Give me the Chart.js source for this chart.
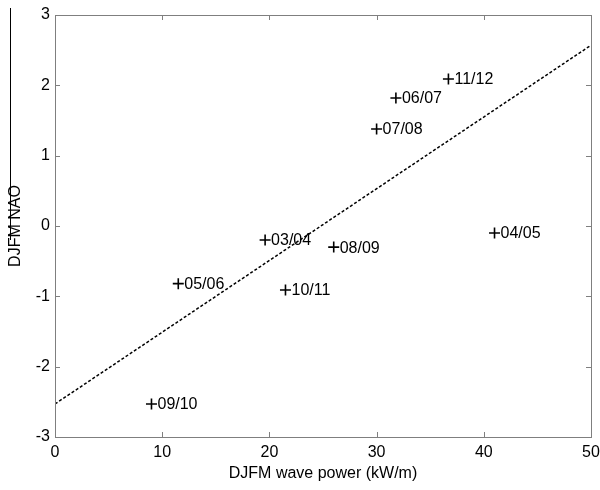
<!DOCTYPE html>
<html>
<head>
<meta charset="utf-8">
<script src="https://cdn.jsdelivr.net/npm/chart.js@4"></script>
<style>
  html, body { margin: 0; padding: 0; background: #fff; }
  #wrap { width: 600px; height: 490px; }
</style>
</head>
<body>
<div id="wrap"><canvas id="c" width="600" height="490"></canvas></div>
<script>
// winter (DJFM) seasons: wave power vs NAO index
const seasons = ['09/10', '05/06', '03/04', '10/11', '08/09', '07/08', '06/07', '11/12', '04/05'];
const wavePower = [9.0, 11.5, 19.6, 21.5, 26.0, 30.0, 31.8, 36.7, 41.0];
const naoIndex = [-2.53, -0.82, -0.20, -0.91, -0.30, 1.38, 1.82, 2.09, -0.10];

// least squares fit line at both ends
const fitX = [0, 50];
const fitY = [-2.53, 2.57];

const xTicks = [0, 10, 20, 30, 40, 50];
const yTicks = [-3, -2, -1, 0, 1, 2, 3];

const FONT = 'Liberation Sans, Arial, sans-serif';
const AXIS_GREY = '#7f7f7f';

// point labels next to each + marker
const seasonLabels = {
  id: 'seasonLabels',
  afterDatasetsDraw(chart) {
    const ctx = chart.ctx;
    const meta = chart.getDatasetMeta(0);
    ctx.save();
    ctx.font = '16px ' + FONT;
    ctx.fillStyle = '#000';
    ctx.textBaseline = 'middle';
    ctx.textAlign = 'left';
    meta.data.forEach((pt, i) => {
      ctx.fillText(seasons[i], pt.x + 6, pt.y + 1);
    });
    ctx.restore();
  }
};

// matlab style box: inward ticks on all four sides + stray line at far left
const boxTicks = {
  id: 'boxTicks',
  afterDraw(chart) {
    const ctx = chart.ctx;
    const a = chart.chartArea;
    const xs = chart.scales.x, ys = chart.scales.y;
    const len = 5;
    ctx.save();
    ctx.strokeStyle = AXIS_GREY;
    ctx.lineWidth = 1;
    ctx.strokeRect(Math.round(a.left) + 0.5, Math.round(a.top) + 0.5,
      Math.round(a.right - a.left), Math.round(a.bottom - a.top));
    ctx.beginPath();
    xTicks.forEach(v => {
      const px = Math.round(xs.getPixelForValue(v)) + 0.5;
      ctx.moveTo(px, a.bottom); ctx.lineTo(px, a.bottom - len);
      ctx.moveTo(px, a.top); ctx.lineTo(px, a.top + len);
    });
    yTicks.forEach(v => {
      const py = Math.round(ys.getPixelForValue(v)) + 0.5;
      ctx.moveTo(a.left, py); ctx.lineTo(a.left + len, py);
      ctx.moveTo(a.right, py); ctx.lineTo(a.right - len, py);
    });
    ctx.stroke();
    ctx.strokeStyle = '#000';
    ctx.beginPath();
    ctx.moveTo(10.5, 8); ctx.lineTo(10.5, 240);
    ctx.stroke();
    ctx.restore();
  }
};

new Chart(document.getElementById('c'), {
  type: 'scatter',
  data: {
    datasets: [
      {
        label: 'seasons',
        data: wavePower.map((x, i) => ({ x, y: naoIndex[i] })),
        pointStyle: 'cross',
        pointRadius: 5.5,
        pointHoverRadius: 5.5,
        borderColor: '#000',
        backgroundColor: '#000',
        pointBorderWidth: 1.6,
        showLine: false
      },
      {
        label: 'fit',
        data: fitX.map((x, i) => ({ x, y: fitY[i] })),
        showLine: true,
        borderColor: '#000',
        borderWidth: 1.5,
        borderDash: [3, 2],
        pointRadius: 0,
        fill: false
      }
    ]
  },
  options: {
    responsive: false,
    animation: false,
    layout: { padding: { top: 15, right: 0, left: 0, bottom: 0 } },
    plugins: {
      legend: { display: false },
      tooltip: { enabled: false }
    },
    scales: {
      x: {
        type: 'linear',
        min: 0, max: 50,
        afterBuildTicks: s => { s.ticks = xTicks.map(v => ({ value: v })); },
        afterFit: s => { s.height = 53; s.paddingRight = 9; },
        grid: { display: false, drawTicks: false },
        border: { display: false },
        ticks: { color: '#000', font: { family: FONT, size: 16 }, padding: 6, maxRotation: 0 },
        title: { display: true, text: 'DJFM wave power (kW/m)', color: '#000',
          font: { family: FONT, size: 16 }, padding: { top: 0, bottom: 7 } }
      },
      y: {
        type: 'linear',
        min: -3, max: 3,
        afterBuildTicks: s => { s.ticks = yTicks.map(v => ({ value: v })); },
        afterFit: s => { s.width = 55; },
        grid: { display: false, drawTicks: false },
        border: { display: false },
        ticks: { color: '#000', font: { family: FONT, size: 16 }, padding: 5 },
        title: { display: true, text: 'DJFM NAO', color: '#000',
          font: { family: FONT, size: 16 }, padding: { top: 6, bottom: 0 } }
      }
    }
  },
  plugins: [seasonLabels, boxTicks]
});
</script>
</body>
</html>
